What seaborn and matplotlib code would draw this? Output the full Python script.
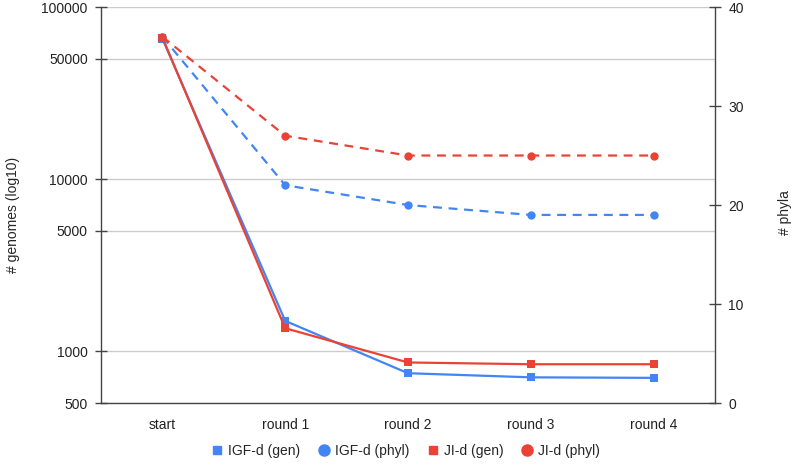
import numpy as np
import pandas as pd
import matplotlib
matplotlib.use("Agg")
import matplotlib.pyplot as plt
import seaborn as sns
from matplotlib.lines import Line2D
from matplotlib.ticker import FixedLocator, NullLocator

rounds = ["start", "round 1", "round 2", "round 3", "round 4"]
igf_gen = [65500, 1500, 745, 705, 700]
ji_gen = [66500, 1360, 860, 840, 840]
igf_phyl = [37, 22, 20, 19, 19]
ji_phyl = [37, 27, 25, 25, 25]

blue = "#4285F4"
red = "#EA4335"

sns.set_style("white")
plt.rcParams["font.family"] = ["Liberation Sans", "DejaVu Sans"]

gen = pd.DataFrame({
    "round": rounds * 2,
    "value": igf_gen + ji_gen,
    "series": ["IGF-d (gen)"] * 5 + ["JI-d (gen)"] * 5,
})
phyl = pd.DataFrame({
    "round": rounds * 2,
    "value": igf_phyl + ji_phyl,
    "series": ["IGF-d (phyl)"] * 5 + ["JI-d (phyl)"] * 5,
})

fig = plt.figure(figsize=(7.94, 4.69), dpi=100)
ax = fig.add_axes([0.1272, 0.1407, 0.7733, 0.8443])
ax2 = ax.twinx()

sns.lineplot(data=gen, x="round", y="value", hue="series",
             palette=[blue, red], marker="s", markersize=6,
             markeredgewidth=0, linewidth=1.6, ax=ax, legend=False, sort=False)
sns.lineplot(data=phyl, x="round", y="value", hue="series",
             palette=[blue, red], marker="o", markersize=6,
             markeredgewidth=0, linewidth=1.6, ax=ax2, legend=False, sort=False)
for line in ax2.get_lines():
    line.set_linestyle((0, (4, 3)))

ax.set_yscale("log")
ax.set_ylim(500, 100000)
ax.yaxis.set_major_locator(FixedLocator([500, 1000, 5000, 10000, 50000, 100000]))
ax.yaxis.set_minor_locator(NullLocator())
ax.set_yticklabels(["500", "1000", "5000", "10000", "50000", "100000"])
ax.set_xlim(-0.5, 4.5)
ax2.set_ylim(0, 40)
ax2.set_yticks([0, 10, 20, 30, 40])

ax.grid(axis="y", color="#cccccc", linewidth=1)
ax.set_axisbelow(True)
ax.set_xlabel("")
ax.set_ylabel("# genomes (log10)", fontsize=10, va="center")
ax2.set_ylabel("# phyla", fontsize=10, rotation=90, va="center")
ax.yaxis.set_label_coords(-0.143, 0.475)
ax2.yaxis.set_label_coords(1.114, 0.48)

for a in (ax, ax2):
    a.spines["top"].set_visible(False)
    for s in ("left", "right", "bottom"):
        a.spines[s].set_color("#444444")
        a.spines[s].set_linewidth(1)
    a.tick_params(direction="inout", length=9, width=1, color="#444444",
                  labelsize=10, labelcolor="#222222")
ax.spines["right"].set_visible(False)
ax2.spines["left"].set_visible(False)
ax2.spines["bottom"].set_visible(False)
ax.tick_params(axis="x", pad=6)
ax.tick_params(axis="y", pad=5)
ax2.tick_params(axis="y", pad=5)

handles = [
    Line2D([], [], color=blue, marker="s", linestyle="none", markersize=6),
    Line2D([], [], color=blue, marker="o", linestyle="none", markersize=8),
    Line2D([], [], color=red, marker="s", linestyle="none", markersize=6),
    Line2D([], [], color=red, marker="o", linestyle="none", markersize=8),
]
labels = ["IGF-d (gen)", "IGF-d (phyl)", "JI-d (gen)", "JI-d (phyl)"]
fig.legend(handles, labels, loc="center", bbox_to_anchor=(0.51, 0.038), ncol=4,
           frameon=False, fontsize=10, handletextpad=0.3, columnspacing=1.2,
           handlelength=1)

fig.savefig("out.png", dpi=100)
